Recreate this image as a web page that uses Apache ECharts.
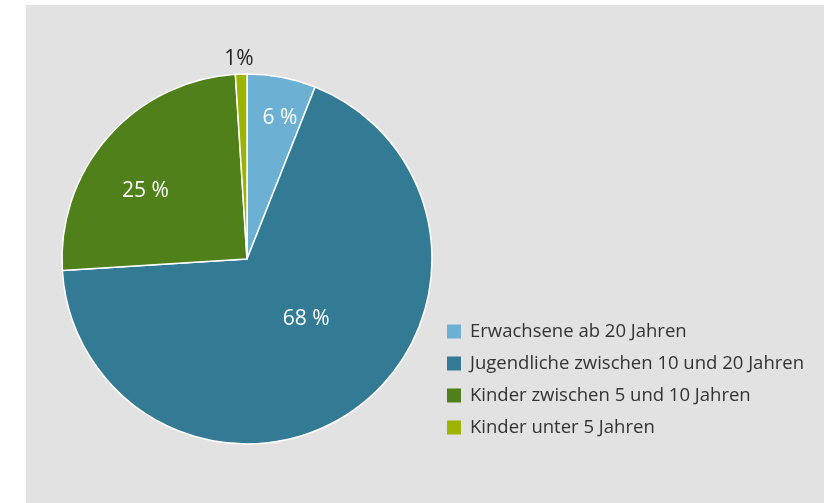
<!DOCTYPE html>
<html><head><meta charset="utf-8">
<script src="https://cdn.jsdelivr.net/npm/echarts@6/dist/echarts.min.js"></script>
<style>
html,body{margin:0;padding:0;background:#fff;width:824px;height:503px;overflow:hidden}
#c{position:absolute;left:26px;top:5px;width:798px;height:498px;background:#e2e2e2}
</style></head>
<body><div id="c"></div>
<script>
var categories = ['Erwachsene ab 20 Jahren','Jugendliche zwischen 10 und 20 Jahren','Kinder zwischen 5 und 10 Jahren','Kinder unter 5 Jahren'];
var values = [6, 68, 25, 1];
var colors = ['#6cb1d3','#337a94','#4f8019','#9cb300'];
var labelColors = ['#ffffff','#ffffff','#ffffff','#222222'];
var labelShift = [[15,-47],[3,-17],[-30,-5],[-5,-105]];

var chart = echarts.init(document.getElementById('c'), null, {renderer:'canvas'});
var data = categories.map(function(n,i){
  return {name:n, value:values[i], itemStyle:{color:colors[i]}, label:{color:labelColors[i]}};
});
chart.setOption({
  animation:false,
  backgroundColor:'#e2e2e2',
  legend:{
    orient:'vertical', left:421, top:317, padding:0,
    itemWidth:14, itemHeight:14, itemGap:13,
    icon:'rect',
    itemStyle:{borderWidth:0},
    textStyle:{fontFamily:'Open Sans', fontSize:18.5, lineHeight:19, color:'#333', padding:[0,0,0,4]},
    data:categories
  },
  series:[{
    type:'pie',
    center:[221,254],
    radius:[0,185],
    startAngle:90,
    clockwise:true,
    avoidLabelOverlap:false,
    itemStyle:{borderColor:'#ffffff', borderWidth:1.5},
    label:{show:true, position:'inside', fontFamily:'Open Sans', fontSize:21,
      formatter:function(p){ return p.dataIndex===3 ? p.value+'%' : p.value+' %'; }},
    labelLine:{show:false},
    labelLayout:function(p){ var s=labelShift[p.dataIndex]; return {dx:s[0], dy:s[1]}; },
    emphasis:{disabled:true},
    data:data
  }]
});
</script></body></html>
